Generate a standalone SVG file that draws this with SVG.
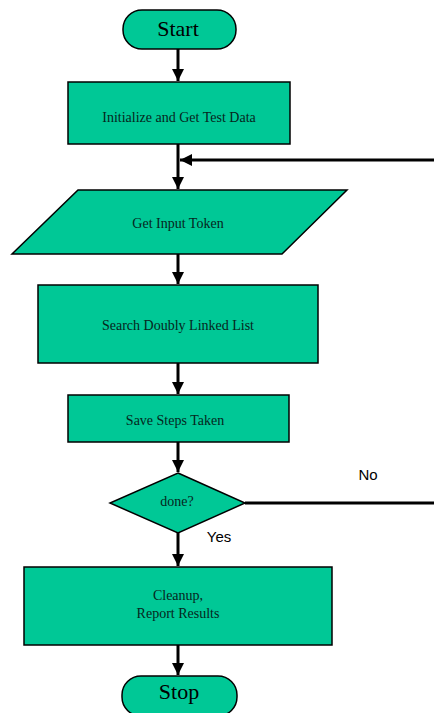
<svg xmlns="http://www.w3.org/2000/svg" width="434" height="713" viewBox="0 0 434 713">
  <style>
    .box { fill: #00c896; stroke: #000; stroke-width: 1.5; }
    .lbl { font-family: "Liberation Serif", "Times New Roman", serif; fill: #06261c; text-anchor: middle; }
    .small { font-size: 14px; }
    .big { font-size: 22px; fill: #000; }
    .edge { stroke: #000; stroke-width: 3; fill: none; }
    .note { font-family: "Liberation Sans", Arial, sans-serif; font-size: 15px; fill: #000; }
  </style>
  <defs>
    <marker id="arrow" viewBox="0 0 10 10" refX="10" refY="5" markerWidth="4" markerHeight="4" orient="auto" markerUnits="strokeWidth">
      <path d="M0,0 L10,5 L0,10 z" fill="#000"/>
    </marker>
  </defs>

  <rect width="434" height="713" fill="#fff"/>

  <g id="connectors">
    <line class="edge" x1="178" y1="49" x2="178" y2="81" marker-end="url(#arrow)"/>
    <line class="edge" x1="178" y1="144" x2="178" y2="189" marker-end="url(#arrow)"/>
    <line class="edge" x1="434" y1="160" x2="180" y2="160" marker-end="url(#arrow)"/>
    <line class="edge" x1="178" y1="254" x2="178" y2="284" marker-end="url(#arrow)"/>
    <line class="edge" x1="178" y1="363" x2="178" y2="394" marker-end="url(#arrow)"/>
    <line class="edge" x1="178" y1="442" x2="178" y2="472" marker-end="url(#arrow)"/>
    <line class="edge" x1="245" y1="503" x2="434" y2="503"/>
    <line class="edge" x1="178" y1="533" x2="178" y2="566" marker-end="url(#arrow)"/>
    <line class="edge" x1="178" y1="645" x2="178" y2="675" marker-end="url(#arrow)"/>
    <text class="note" x="368" y="480" text-anchor="middle">No</text>
    <text class="note" x="219" y="542" text-anchor="middle">Yes</text>
  </g>

  <g id="start">
    <rect class="box" x="123" y="10" width="113" height="39" rx="19" ry="19"/>
    <text class="lbl big" x="178" y="36">Start</text>
  </g>

  <g id="init">
    <rect class="box" x="68" y="82" width="222" height="62"/>
    <text class="lbl small" x="179" y="122">Initialize and Get Test Data</text>
  </g>

  <g id="input">
    <polygon class="box" points="78,190 347,190 282,254 12,254"/>
    <text class="lbl small" x="178" y="228">Get Input Token</text>
  </g>

  <g id="search">
    <rect class="box" x="38" y="285" width="280" height="78"/>
    <text class="lbl small" x="178" y="330">Search Doubly Linked List</text>
  </g>

  <g id="save">
    <rect class="box" x="68" y="395" width="221" height="47"/>
    <text class="lbl small" x="175" y="425">Save Steps Taken</text>
  </g>

  <g id="done">
    <polygon class="box" points="178,473 245,503 178,533 110,503"/>
    <text class="lbl small" x="177" y="506">done?</text>
  </g>

  <g id="cleanup">
    <rect class="box" x="24" y="567" width="308" height="78"/>
    <text class="lbl small" x="178" y="600">Cleanup,</text>
    <text class="lbl small" x="178" y="618">Report Results</text>
  </g>

  <g id="stop">
    <rect class="box" x="122" y="676" width="115" height="40" rx="19" ry="19"/>
    <text class="lbl big" x="179" y="699">Stop</text>
  </g>
</svg>
